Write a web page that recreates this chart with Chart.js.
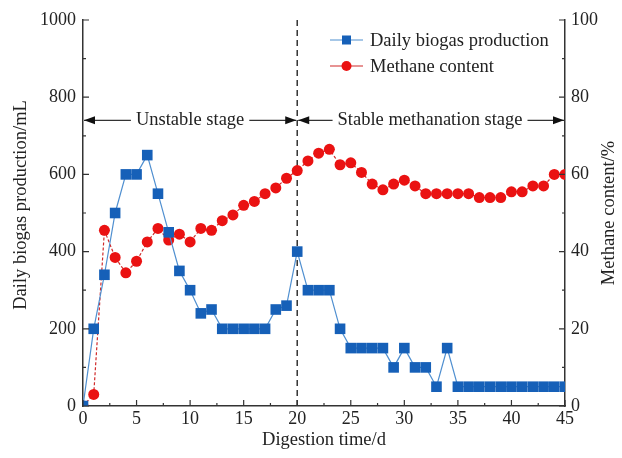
<!DOCTYPE html>
<html>
<head>
<meta charset="utf-8">
<script src="https://cdn.jsdelivr.net/npm/chart.js@4.4.0/dist/chart.umd.min.js"></script>
<style>
  html, body { margin: 0; padding: 0; background: #fff; }
</style>
</head>
<body>
<canvas id="chart" width="622" height="458"></canvas>
<script>
// digestion day 0..45
var days = [];
for (var d = 0; d <= 45; d++) days.push(d);

// daily biogas production (mL)
var biogas = [0, 200, 340, 500, 600, 600, 650, 550, 450, 350,
              300, 240, 250, 200, 200, 200, 200, 200, 250, 260,
              400, 300, 300, 300, 200, 150, 150, 150, 150, 100,
              150, 100, 100, 50, 150, 50, 50, 50, 50, 50,
              50, 50, 50, 50, 50, 50];

// methane content (%)
var methane = [0, 3, 45.5, 38.5, 34.5, 37.5, 42.5, 46, 43, 44.5,
               42.5, 46, 45.5, 48, 49.5, 52, 53, 55, 56.5, 59,
               61, 63.5, 65.5, 66.5, 62.5, 63, 60.5, 57.5, 56, 57.5,
               58.5, 57, 55, 55, 55, 55, 55, 54, 54, 54,
               55.5, 55.5, 57, 57, 60, 60];

var seriesNames = ['Daily biogas production', 'Methane content'];
var stageNames = ['Unstable stage', 'Stable methanation stage'];
var stageSplit = 20;

var FONT = 'Liberation Serif';
var INK = '#222';

function toPoints(vals) {
  return days.map(function(x, i) { return { x: x, y: vals[i] }; });
}

// everything the axes draw by hand: inward ticks, titles, arrows, legend
var decor = {
  id: 'decor',
  beforeDatasetsDraw: function(chart) {
    var ctx = chart.ctx, a = chart.chartArea;
    var px = chart.scales.x.getPixelForValue(stageSplit);
    ctx.save();
    ctx.strokeStyle = '#333';
    ctx.lineWidth = 1.5;
    ctx.setLineDash([6, 4]);
    ctx.beginPath();
    ctx.moveTo(px, a.top);
    ctx.lineTo(px, a.bottom);
    ctx.stroke();
    ctx.restore();
  },
  afterDraw: function(chart) {
    var ctx = chart.ctx, a = chart.chartArea;
    var sx = chart.scales.x, sy = chart.scales.y, sy2 = chart.scales.y2;
    ctx.save();
    ctx.strokeStyle = '#333';
    ctx.lineWidth = 1.2;
    ctx.setLineDash([]);

    // inward ticks
    ctx.beginPath();
    for (var v = 0; v <= 45; v += 2.5) {
      var p = sx.getPixelForValue(v);
      var len = (v % 5 === 0) ? 6 : 3;
      ctx.moveTo(p, a.bottom); ctx.lineTo(p, a.bottom - len);
    }
    for (var v = 0; v <= 1000; v += 100) {
      var p = sy.getPixelForValue(v);
      var len = (v % 200 === 0) ? 6 : 3;
      ctx.moveTo(a.left, p); ctx.lineTo(a.left + len, p);
    }
    for (var v = 0; v <= 100; v += 10) {
      var p = sy2.getPixelForValue(v);
      var len = (v % 20 === 0) ? 6 : 3;
      ctx.moveTo(a.right, p); ctx.lineTo(a.right - len, p);
    }
    ctx.stroke();

    // axis titles
    ctx.fillStyle = INK;
    ctx.font = '18.5px "' + FONT + '"';
    ctx.textAlign = 'center';
    ctx.textBaseline = 'middle';
    ctx.fillText('Digestion time/d', (a.left + a.right) / 2, 440);
    ctx.save();
    ctx.translate(21, 205);
    ctx.rotate(-Math.PI / 2);
    ctx.fillText('Daily biogas production/mL', 0, 0);
    ctx.restore();
    ctx.save();
    ctx.translate(609, 213);
    ctx.rotate(-Math.PI / 2);
    ctx.fillText('Methane content/%', 0, 0);
    ctx.restore();

    // stage arrows
    var ay = sy.getPixelForValue(740);
    var xs = [sx.getPixelForValue(0), sx.getPixelForValue(stageSplit), sx.getPixelForValue(45)];
    var centers = [sx.getPixelForValue(10), sx.getPixelForValue(32.4)];
    for (var i = 0; i < 2; i++) {
      var tw = ctx.measureText(stageNames[i]).width;
      var l = xs[i], r = xs[i + 1];
      var t0 = centers[i] - tw / 2 - 5, t1 = centers[i] + tw / 2 + 5;
      ctx.fillText(stageNames[i], centers[i], ay);
      ctx.lineWidth = 1.2;
      ctx.beginPath();
      ctx.moveTo(l + 1, ay); ctx.lineTo(t0, ay);
      ctx.moveTo(t1, ay); ctx.lineTo(r - 1, ay);
      ctx.stroke();
      ctx.fillStyle = '#111';
      ctx.beginPath();
      ctx.moveTo(l + 1, ay); ctx.lineTo(l + 12, ay - 4); ctx.lineTo(l + 12, ay + 4); ctx.closePath();
      ctx.moveTo(r - 1, ay); ctx.lineTo(r - 12, ay - 4); ctx.lineTo(r - 12, ay + 4); ctx.closePath();
      ctx.fill();
      ctx.fillStyle = INK;
    }

    // legend
    ctx.textAlign = 'left';
    var ly = [40, 66];
    chart.data.datasets.forEach(function(ds, i) {
      ctx.strokeStyle = ds.borderColor;
      ctx.lineWidth = 1.2;
      ctx.beginPath();
      ctx.moveTo(330, ly[i]); ctx.lineTo(363, ly[i]);
      ctx.stroke();
      ctx.fillStyle = ds.pointBackgroundColor;
      if (ds.pointStyle === 'rect') {
        ctx.fillRect(342, ly[i] - 4.5, 9, 9);
      } else {
        ctx.beginPath();
        ctx.arc(346.5, ly[i], 5, 0, Math.PI * 2);
        ctx.fill();
      }
      ctx.fillStyle = INK;
      ctx.fillText(ds.label, 370, ly[i] + 1);
    });
    ctx.restore();
  }
};

var tickFont = { family: FONT, size: 18 };

new Chart(document.getElementById('chart'), {
  type: 'line',
  data: {
    datasets: [{
      label: seriesNames[0],
      data: toPoints(biogas),
      yAxisID: 'y',
      borderColor: '#4f8fd0',
      borderWidth: 1.2,
      pointStyle: 'rect',
      pointRadius: 7.5,
      pointBackgroundColor: '#1660b8',
      pointBorderColor: '#1660b8',
      pointBorderWidth: 0,
      tension: 0
    }, {
      label: seriesNames[1],
      data: toPoints(methane),
      yAxisID: 'y2',
      borderColor: '#d02828',
      borderWidth: 1.2,
      borderDash: [3, 2],
      pointStyle: 'circle',
      pointRadius: 5.5,
      pointBackgroundColor: '#ea1212',
      pointBorderColor: '#ea1212',
      pointBorderWidth: 0,
      tension: 0
    }]
  },
  options: {
    responsive: false,
    animation: false,
    layout: { padding: { top: 20, left: 0, right: 0, bottom: 0 } },
    plugins: { legend: { display: false }, tooltip: { enabled: false } },
    scales: {
      x: {
        type: 'linear',
        min: 0, max: 45,
        ticks: { stepSize: 5, font: tickFont, color: INK, padding: 2, maxRotation: 0 },
        grid: { drawOnChartArea: false, drawTicks: false },
        border: { display: true, color: '#333', width: 1.5 },
        afterFit: function(s) { s.height = 52; }
      },
      y: {
        position: 'left',
        min: 0, max: 1000,
        ticks: { stepSize: 200, font: tickFont, color: INK, padding: 7,
                 callback: function(v) { return String(v); } },
        grid: { drawOnChartArea: false, drawTicks: false },
        border: { display: true, color: '#333', width: 1.5 },
        afterFit: function(s) { s.width = 83; }
      },
      y2: {
        position: 'right',
        min: 0, max: 100,
        ticks: { stepSize: 20, font: tickFont, color: INK, padding: 6,
                 callback: function(v) { return String(v); } },
        grid: { drawOnChartArea: false, drawTicks: false },
        border: { display: true, color: '#333', width: 1.5 },
        afterFit: function(s) { s.width = 57; }
      }
    }
  },
  plugins: [decor]
});
</script>
</body>
</html>
